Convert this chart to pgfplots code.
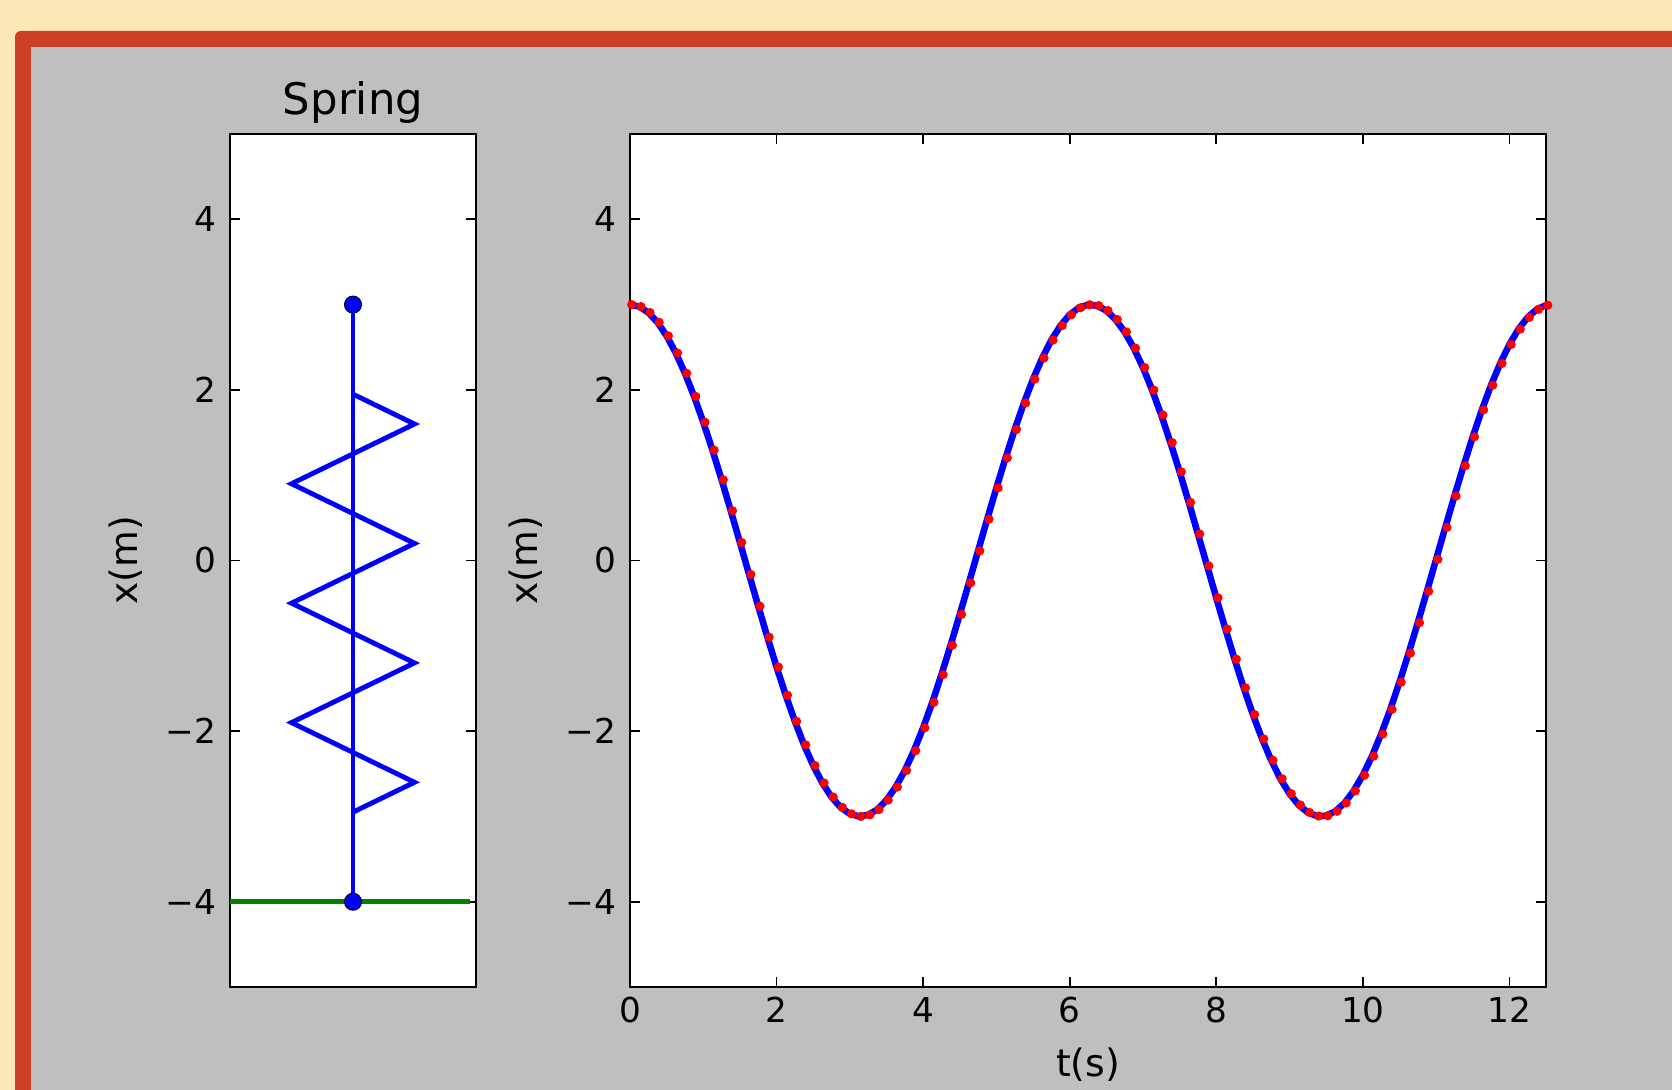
\documentclass[border=0pt]{standalone}
\usepackage{fontspec}
\setmainfont{DejaVu Sans}
\usepackage{pgfplots}
\usepackage{pgfplotstable}
\pgfplotsset{compat=1.18}
\definecolor{cream}{HTML}{FDE9B7}
\definecolor{framered}{HTML}{CC4125}
\definecolor{panel}{HTML}{BFBFBF}
\definecolor{mplgreen}{HTML}{008000}

% x(t) sampled every 0.125 s
\pgfplotstableread{
t x
0.000 3.000
0.125 2.977
0.250 2.907
0.375 2.792
0.500 2.633
0.625 2.433
0.750 2.195
0.875 1.923
1.000 1.621
1.125 1.294
1.250 0.946
1.375 0.584
1.500 0.212
1.625 -0.163
1.750 -0.535
1.875 -0.899
2.000 -1.248
2.125 -1.579
2.250 -1.885
2.375 -2.161
2.500 -2.403
2.625 -2.608
2.750 -2.773
2.875 -2.894
3.000 -2.970
3.125 -3.000
3.250 -2.982
3.375 -2.919
3.500 -2.809
3.625 -2.656
3.750 -2.462
3.875 -2.229
4.000 -1.961
4.125 -1.663
4.250 -1.338
4.375 -0.993
4.500 -0.632
4.625 -0.262
4.750 0.113
4.875 0.486
5.000 0.851
5.125 1.203
5.250 1.536
5.375 1.846
5.500 2.126
5.625 2.373
5.750 2.584
5.875 2.754
6.000 2.881
6.125 2.963
6.250 2.998
6.375 2.987
6.500 2.930
6.625 2.826
6.750 2.679
6.875 2.490
7.000 2.262
7.125 1.998
7.250 1.705
7.375 1.383
7.500 1.040
7.625 0.681
7.750 0.311
7.875 -0.063
8.000 -0.437
8.125 -0.803
8.250 -1.157
8.375 -1.493
8.500 -1.806
8.625 -2.091
8.750 -2.342
8.875 -2.558
9.000 -2.733
9.125 -2.866
9.250 -2.954
9.375 -2.996
9.500 -2.992
9.625 -2.940
9.750 -2.843
9.875 -2.701
10.000 -2.517
10.125 -2.294
10.250 -2.035
10.375 -1.745
10.500 -1.427
10.625 -1.086
10.750 -0.729
10.875 -0.361
11.000 0.013
11.125 0.387
11.250 0.755
11.375 1.111
11.500 1.450
11.625 1.766
11.750 2.055
11.875 2.311
12.000 2.532
12.125 2.713
12.250 2.851
12.375 2.945
12.500 2.993
}\osc

\pgfplotsset{
  mpl/.style={
    scale only axis,
    anchor=north west,
    height=298.55pt,
    ymin=-5, ymax=5,
    ytick={-4,-2,0,2,4},
    yticklabels={−4,−2,0,2,4},
    axis background/.style={fill=white},
    axis line style={line width=1.0pt, black},
    tick style={line width=0.6pt, black},
    major tick length=3.5pt,
    tick align=inside,
    tick label style={font=\fontsize{12}{14}\selectfont, text=black},
    yticklabel style={xshift=-1.2pt},
    label style={font=\fontsize{13.2}{15}\selectfont, text=black},
    ylabel={x(m)},
    ylabel style={at={(axis description cs:0,0.5)}, anchor=center, yshift=36.4pt},
  }
}

\begin{document}
\begin{tikzpicture}
\useasboundingbox (0,0) rectangle (585.2pt,-381.5pt);
\fill[cream] (0,0) rectangle (585.2pt,-381.5pt);
\fill[framered, rounded corners=2pt] (5.25pt,-400pt) -- (5.25pt,-10.85pt) -- (600pt,-10.85pt) -- (600pt,-400pt) -- cycle;
\fill[panel] (10.85pt,-16.45pt) rectangle (600pt,-400pt);

% spring panel
\begin{axis}[mpl,
  at={(80.5pt,-46.9pt)},
  width=86.1pt,
  xmin=-1, xmax=1,
  xtick=\empty,
  title={Spring},
  title style={at={(axis description cs:0.5,1)}, anchor=base, yshift=0.65pt, font=\fontsize{15.2}{17}\selectfont},
]
\addplot[blue, line width=1.7pt] coordinates {
  (0,1.95) (0.5,1.6) (-0.5,0.9) (0.5,0.2) (-0.5,-0.5) (0.5,-1.2) (-0.5,-1.9) (0.5,-2.6) (0,-2.95)
};
\addplot[blue, line width=1.7pt, mark=*, mark size=3pt, mark options={fill=blue, draw=black, line width=0.3pt}] coordinates {
  (0,3) (0,-4)
};
\addplot[mplgreen, line width=1.7pt] coordinates {(-1,-4) (0.95,-4)};
\end{axis}

% time series panel
\begin{axis}[mpl,
  at={(220.5pt,-46.9pt)},
  width=320.6pt,
  xmin=0, xmax=12.5,
  xtick={0,2,4,6,8,10,12},
  xticklabels={0,2,4,6,8,10,12},
  xlabel={t(s)},
  xlabel style={at={(axis description cs:0.5,0)}, anchor=base, yshift=-31.15pt},
]
\addplot[only marks, mark=*, mark size=1.4pt, red, xshift=0.6pt] table[x=t, y=x] {\osc};
\addplot[blue, line width=2.3pt] table[x=t, y=x] {\osc};
\end{axis}
\end{tikzpicture}
\end{document}
